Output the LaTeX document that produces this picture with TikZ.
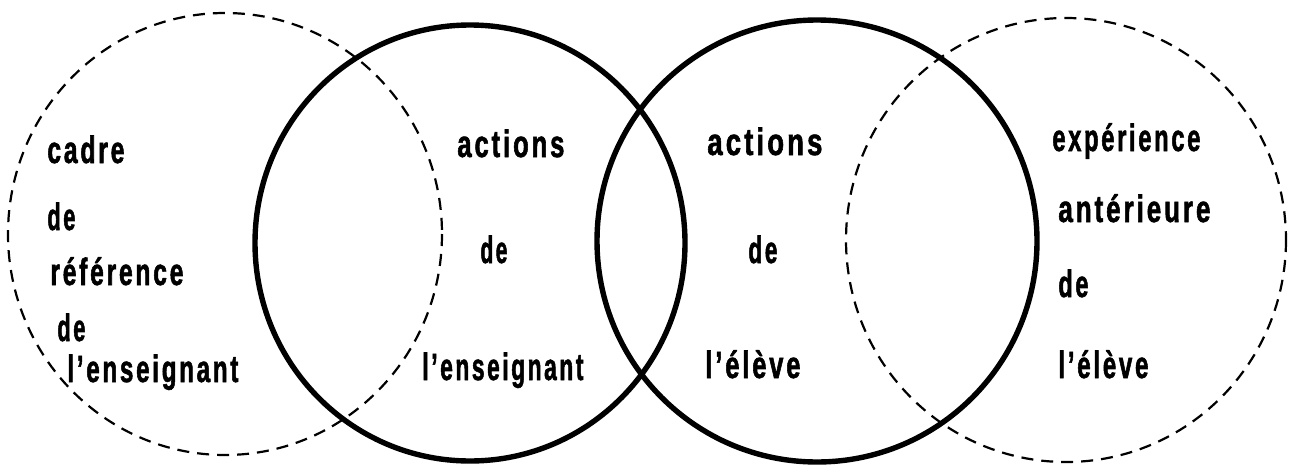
\documentclass[tikz,border=0pt]{standalone}
\usepackage{fontspec}
\usepackage{graphicx}
\setmainfont{Liberation Sans}[FakeStretch=0.7,LetterSpace=8,BoldFont={Liberation Sans Bold},BoldFeatures={FakeBold=1.5}]
\newcommand\fitw[2]{\resizebox{#1pt}{\height}{#2}}
\begin{document}
\begin{tikzpicture}[x=0.5pt,y=-0.5pt,
  solidring/.style={line width=2.7pt},
  dashring/.style={line width=1.1pt,dash pattern=on 6pt off 4pt},
  lab/.style={anchor=base west,inner sep=0pt,font=\fontsize{19}{22}\selectfont\bfseries}]
\useasboundingbox (0,0) rectangle (1295,466);
% circles
\draw[dashring] (225,234) ellipse [x radius=217,y radius=221];
\draw[solidring] (470,243) ellipse [x radius=215,y radius=218];
\draw[solidring] (817,241) ellipse [x radius=220,y radius=221];
\draw[dashring] (1066,240) ellipse [x radius=220,y radius=222];
% left dashed circle
\node[lab] (c1a) at (47,163) {\fitw{38.5}{cadre}};
\node[lab] (c1b) at (47,230) {\fitw{14}{de}};
\node[lab] (c1c) at (50,285) {\fitw{66.5}{référence}};
\node[lab] (c1d) at (57,341) {\fitw{14}{de}};
\node[lab] (c1e) at (67,382) {\fitw{85.5}{l’enseignant}};
% second circle
\node[lab] (c2a) at (457,157) {\fitw{53.5}{actions}};
\node[lab] (c2b) at (480,263) {\fitw{13.5}{de}};
\node[lab] (c2c) at (422,380) {\fitw{80.5}{l’enseignant}};
% third circle
\node[lab] (c3a) at (707,155) {\fitw{57.5}{actions}};
\node[lab] (c3b) at (748,263) {\fitw{14.5}{de}};
\node[lab] (c3c) at (705,378) {\fitw{47.5}{l’élève}};
% right dashed circle
\node[lab] (c4a) at (1052,151) {\fitw{74}{expérience}};
\node[lab] (c4b) at (1058,222) {\fitw{76}{antérieure}};
\node[lab] (c4c) at (1058,297) {\fitw{15}{de}};
\node[lab] (c4d) at (1058,378) {\fitw{45}{l’élève}};
\end{tikzpicture}
\end{document}
